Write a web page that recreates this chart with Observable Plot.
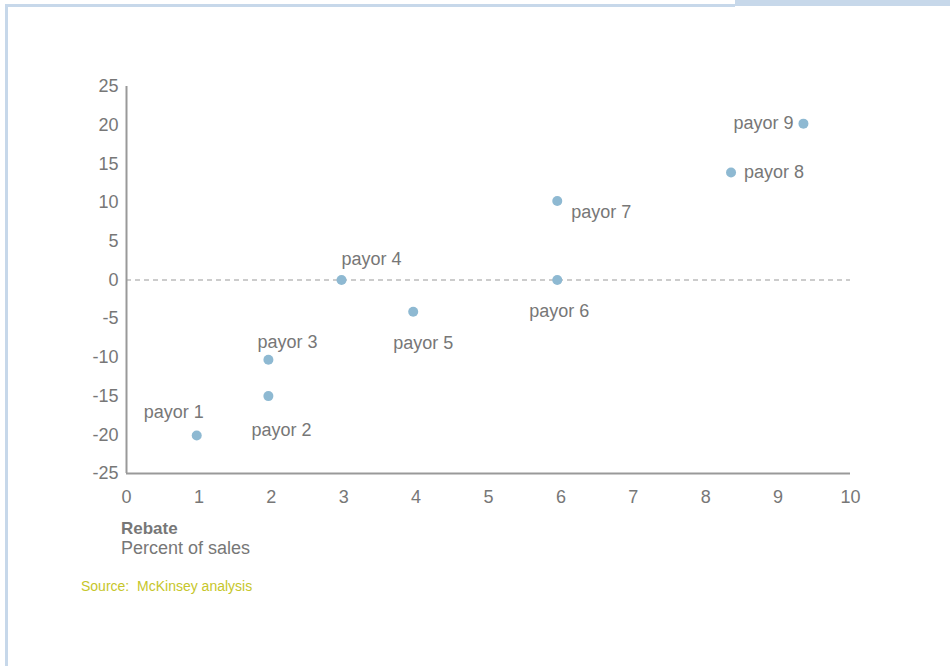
<!DOCTYPE html>
<html>
<head>
<meta charset="utf-8">
<script src="https://cdn.jsdelivr.net/npm/d3@7"></script>
<script src="https://cdn.jsdelivr.net/npm/@observablehq/plot@0.6"></script>
<style>
  html, body { margin: 0; padding: 0; background: #fff; }
  #wrap { position: relative; width: 950px; height: 666px; overflow: hidden; font-family: "Liberation Sans", Arial, sans-serif; }
  #wrap svg { position: absolute; left: 0; top: 0; }
  .frame { position: absolute; background: #c7d8ea; }
  .cap { position: absolute; white-space: nowrap; color: #777; }
</style>
</head>
<body>
<div id="wrap">
  <div class="frame" style="left:5px; top:4px; width:730px; height:3px;"></div>
  <div class="frame" style="left:735px; top:0px; width:215px; height:6px;"></div>
  <div class="frame" style="left:5px; top:4px; width:3px; height:662px;"></div>
  <div id="chart"></div>
  <div class="cap" style="left:121px; top:520px; font-size:17px; line-height:17px; font-weight:bold;">Rebate</div>
  <div class="cap" style="left:121px; top:539px; font-size:18px; line-height:18px;">Percent of sales</div>
  <div class="cap" style="left:81px; top:579px; font-size:14px; line-height:14px; color:#c6c62a;">Source:&nbsp; McKinsey analysis</div>
</div>
<script>
// Data
const payors = ["payor 1", "payor 2", "payor 3", "payor 4", "payor 5", "payor 6", "payor 7", "payor 8", "payor 9"];
const rebate = [0.97, 1.96, 1.96, 2.97, 3.96, 5.95, 5.95, 8.35, 9.35];
const value = [-20.1, -15, -10.3, 0, -4.1, 0, 10.2, 13.9, 20.2];
const xTicks = [0, 1, 2, 3, 4, 5, 6, 7, 8, 9, 10];
const yTicks = [-25, -20, -15, -10, -5, 0, 5, 10, 15, 20, 25];

// Label placement (layout only): [dx, dy, textAnchor]
const labelPlacement = [
  [-23, -23, "middle"],
  [13, 34, "middle"],
  [19, -17, "middle"],
  [0, -21, "start"],
  [10, 32, "middle"],
  [2, 31, "middle"],
  [14, 11, "start"],
  [13, 0, "start"],
  [-10, 0, "end"]
];

const data = payors.map((name, i) => ({name, x: rebate[i], y: value[i], i}));

const labelMarks = data.map((d, i) => Plot.text([d], {
  x: "x", y: "y", text: "name",
  dx: labelPlacement[i][0], dy: labelPlacement[i][1], textAnchor: labelPlacement[i][2],
  fill: "#777", fontSize: 18
}));

const chart = Plot.plot({
  width: 950,
  height: 666,
  marginLeft: 126,
  marginRight: 100,
  marginTop: 86,
  marginBottom: 193,
  style: {fontFamily: "'Liberation Sans', Arial, sans-serif", background: "transparent", overflow: "visible"},
  x: {domain: [0, 10]},
  y: {domain: [-25, 25]},
  marks: [
    Plot.axisX({ticks: xTicks, tickSize: 0, tickPadding: 17, fontSize: 18, fill: "#777", tickFormat: d => String(d), label: null}),
    Plot.axisY({ticks: yTicks, tickSize: 0, tickPadding: 8, fontSize: 18, fill: "#777", tickFormat: d => String(d), label: null}),
    Plot.ruleY([0], {stroke: "#999", strokeWidth: 1.2, strokeDasharray: "5,4"}),
    Plot.ruleX([0], {stroke: "#999", strokeWidth: 2}),
    Plot.ruleY([-25], {stroke: "#999", strokeWidth: 2}),
    Plot.dot(data, {x: "x", y: "y", r: 5, fill: "#8eb9d2", stroke: null}),
    ...labelMarks
  ]
});
document.getElementById("chart").appendChild(chart);
</script>
</body>
</html>
